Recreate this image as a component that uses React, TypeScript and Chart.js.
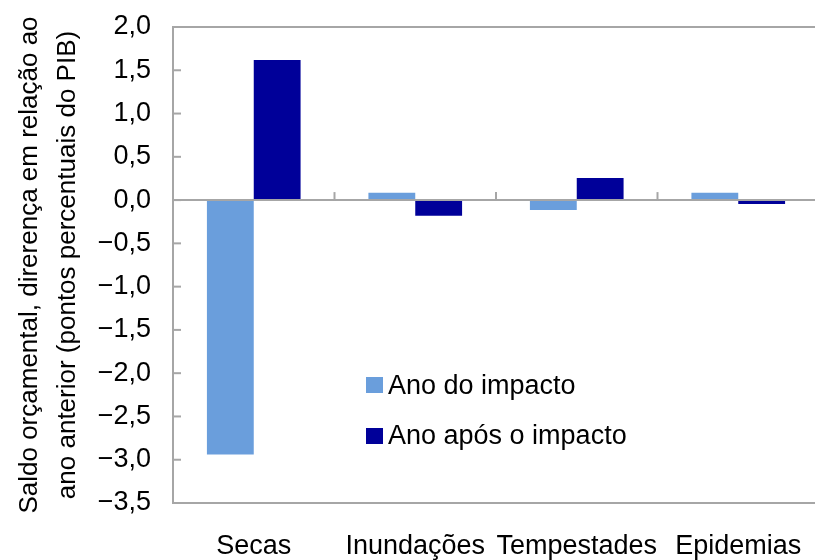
import React, { useEffect, useRef } from "react";
import { Chart, registerables } from "chart.js";

Chart.register(...registerables);

const categories = ["Secas", "Inundações", "Tempestades", "Epidemias"];
const anoDoImpacto = [-2.94, 0.085, -0.115, 0.085];
const anoAposImpacto = [1.62, -0.18, 0.255, -0.045];
const seriesNames = ["Ano do impacto", "Ano após o impacto"];
const seriesColors = ["#6A9EDC", "#000099"];
const yTitle = ["Saldo orçamental, direrença em relação ao", "ano anterior (pontos percentuais do PIB)"];
const yMin = -3.5;
const yMax = 2.0;
const yStep = 0.5;

const FONT = "'Liberation Sans', Arial, sans-serif";
const GRAY = "#A6A6A6";

const framePlugin = {
  id: "frame",
  afterDraw(chart: any) {
    const { ctx, chartArea } = chart;
    const x = chart.scales.x;
    const y = chart.scales.y;
    ctx.save();
    ctx.strokeStyle = GRAY;
    ctx.lineWidth = 2;
    ctx.beginPath();
    ctx.moveTo(chartArea.left - 1, chartArea.top);
    ctx.lineTo(chartArea.right, chartArea.top);
    ctx.stroke();
    y.ticks.forEach((t: any) => {
      const py = y.getPixelForValue(t.value);
      ctx.beginPath();
      ctx.moveTo(chartArea.left, py);
      ctx.lineTo(chartArea.left + 8, py);
      ctx.stroke();
    });
    const zy = y.getPixelForValue(0);
    for (let i = 0; i < categories.length - 1; i++) {
      const bx = (x.getPixelForValue(i) + x.getPixelForValue(i + 1)) / 2;
      ctx.beginPath();
      ctx.moveTo(bx, zy);
      ctx.lineTo(bx, zy - 8);
      ctx.stroke();
    }
    ctx.restore();
  },
};

export default function App() {
  const ref = useRef<HTMLCanvasElement>(null);
  useEffect(() => {
    if (!ref.current) return;
    const chart = new Chart(ref.current, {
      type: "bar",
      data: {
        labels: categories,
        datasets: [
          { label: seriesNames[0], data: anoDoImpacto, backgroundColor: seriesColors[0] },
          { label: seriesNames[1], data: anoAposImpacto, backgroundColor: seriesColors[1] },
        ],
      },
      options: {
        animation: false,
        responsive: false,
        maintainAspectRatio: false,
        layout: { padding: { top: 27, right: 6, left: 0, bottom: 0 } },
        plugins: { legend: { display: false }, tooltip: { enabled: false } },
        datasets: { bar: { categoryPercentage: 0.58, barPercentage: 1.0 } },
        scales: {
          x: {
            grid: { display: false, drawTicks: false },
            border: { display: true, color: GRAY, width: 2 },
            ticks: { color: "#000", font: { family: FONT, size: 27 }, padding: 27, maxRotation: 0, autoSkip: false },
            afterFit: (s: any) => {
              s.height = 57;
              s.paddingLeft = 0;
              s.paddingRight = 0;
            },
          },
          y: {
            min: yMin,
            max: yMax,
            grid: {
              drawTicks: false,
              color: (c: any) => (c.tick && c.tick.value === 0 ? GRAY : "rgba(0,0,0,0)"),
              lineWidth: 2,
            },
            border: { display: true, color: GRAY, width: 2 },
            ticks: {
              stepSize: yStep,
              color: "#000",
              font: { family: FONT, size: 27 },
              padding: 22,
              callback: (v: any) => Number(v).toFixed(1).replace(".", ",").replace("-", "\u2212"),
            },
            title: {
              display: true,
              text: yTitle,
              color: "#000",
              font: { family: FONT, size: 26, lineHeight: 1.45 },
              padding: { top: 11, bottom: 0 },
            },
            afterFit: (s: any) => {
              s.width = 173;
              s.paddingTop = 0;
              s.paddingBottom = 0;
            },
          },
        },
      },
      plugins: [framePlugin],
    });
    return () => chart.destroy();
  }, []);

  const legendText: React.CSSProperties = {
    position: "absolute",
    left: 388,
    fontFamily: FONT,
    fontSize: 27,
    color: "#000",
    lineHeight: "30px",
    whiteSpace: "nowrap",
  };
  return (
    <div style={{ position: "fixed", left: 0, top: 0, width: 815, height: 560, overflow: "hidden", background: "#fff" }}>
      <canvas ref={ref} width={825} height={560} style={{ display: "block" }} />
      <div style={{ position: "absolute", left: 366, top: 377, width: 17, height: 16, background: seriesColors[0] }} />
      <div style={{ ...legendText, top: 370 }}>{seriesNames[0]}</div>
      <div style={{ position: "absolute", left: 366, top: 428, width: 17, height: 16, background: seriesColors[1] }} />
      <div style={{ ...legendText, top: 420 }}>{seriesNames[1]}</div>
    </div>
  );
}
